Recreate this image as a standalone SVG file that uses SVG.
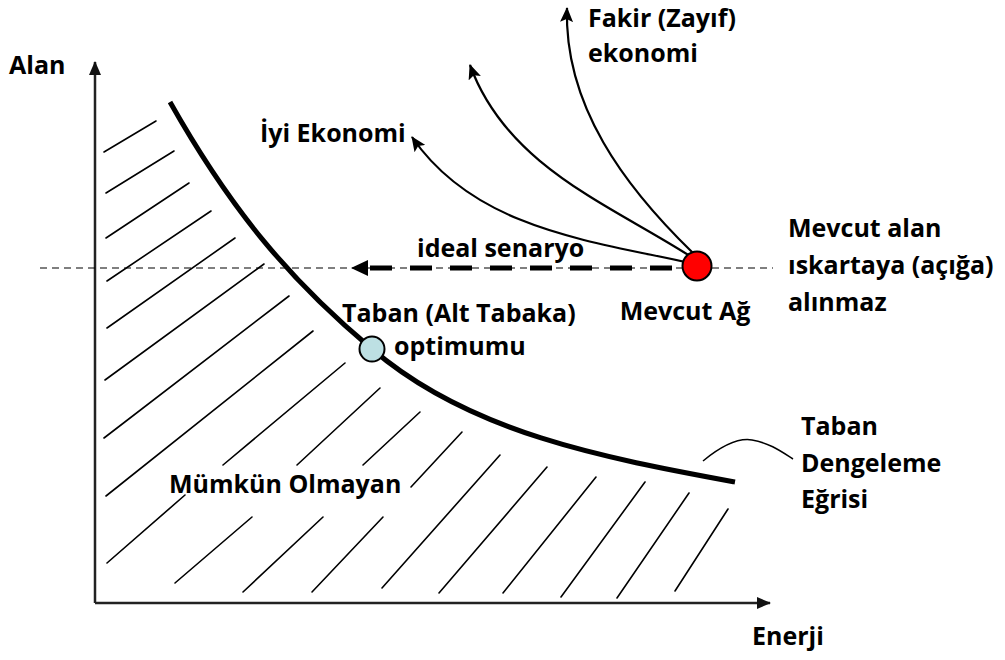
<svg xmlns="http://www.w3.org/2000/svg" width="1005" height="660" viewBox="0 0 1005 660">
<style>
.t{font-family:"Open Sans","Liberation Sans",sans-serif;font-weight:bold;font-size:25px;fill:#000}
.h{stroke:#000;stroke-width:1.6;fill:none;stroke-linecap:round}
.ax{stroke:#222;stroke-width:2.5;fill:none}
.ar{stroke:#000;stroke-width:2.2;fill:none}
</style>
<defs>
<marker id="axh" markerUnits="userSpaceOnUse" viewBox="0 0 14 12" markerWidth="14" markerHeight="12" refX="13" refY="6" orient="auto"><path d="M0,0 L14,6 L0,12 Z" fill="#111"/></marker>
<marker id="ah" markerUnits="userSpaceOnUse" viewBox="0 0 15 13" markerWidth="15" markerHeight="13" refX="14" refY="6.5" orient="auto"><path d="M0,0 L15,6.5 L0,13 L3,6.5 Z" fill="#000"/></marker>
</defs>
<rect width="1005" height="660" fill="#fff"/>

<g id="hatching">
<line class="h" x1="104" y1="152" x2="156" y2="121"/>
<line class="h" x1="106" y1="193" x2="174" y2="151"/>
<line class="h" x1="106" y1="238" x2="189" y2="183"/>
<line class="h" x1="107" y1="281" x2="211" y2="211"/>
<line class="h" x1="107" y1="328" x2="235" y2="238"/>
<line class="h" x1="105" y1="380" x2="264" y2="264"/>
<line class="h" x1="104" y1="438" x2="289" y2="296"/>
<line class="h" x1="106" y1="496" x2="313" y2="331"/>
<line class="h" x1="107" y1="563" x2="185" y2="495"/>
<line class="h" x1="223" y1="465" x2="345" y2="363"/>
<line class="h" x1="175" y1="583" x2="252" y2="517"/>
<line class="h" x1="297" y1="465" x2="380" y2="388"/>
<line class="h" x1="243" y1="592" x2="323" y2="517"/>
<line class="h" x1="363" y1="465" x2="420" y2="412"/>
<line class="h" x1="312" y1="592" x2="383" y2="517"/>
<line class="h" x1="411" y1="487" x2="462" y2="432"/>
<line class="h" x1="382" y1="588" x2="500" y2="455"/>
<line class="h" x1="439" y1="593" x2="547" y2="467"/>
<line class="h" x1="503" y1="593" x2="596" y2="477"/>
<line class="h" x1="561" y1="597" x2="645" y2="482"/>
<line class="h" x1="617" y1="598" x2="689" y2="493"/>
<line class="h" x1="675" y1="591" x2="728" y2="509"/>
</g>

<g id="axes">
<path class="ax" d="M95,603 L95,62" marker-end="url(#axh)"/>
<path class="ax" d="M95,603 L770,603" marker-end="url(#axh)"/>
</g>

<g id="connectors">
<line x1="40" y1="268" x2="773" y2="268" stroke="#000" stroke-width="1.2" stroke-dasharray="7 5"/>
<line x1="370" y1="268" x2="684" y2="268" stroke="#000" stroke-width="5" stroke-dasharray="22 18"/>
<path d="M351,268 L368,260 L368,276 Z" fill="#000"/>
<path class="ar" d="M690,263 C591,241 475,229 412,137" marker-end="url(#ah)"/>
<path class="ar" d="M693,258 C611,205 507,167 470,65" marker-end="url(#ah)"/>
<path class="ar" d="M693,253 C625,187 564,106 567,8" marker-end="url(#ah)"/>
<path d="M703,461 C725,443 740,438 752,440 C770,443 782,452 793,459" stroke="#000" stroke-width="1.5" fill="none"/>
</g>

<g id="curve">
<path d="M170,102 C232,212 292,282 372,349 C470.8,433.5 605,458 735,482" stroke="#000" stroke-width="5" fill="none"/>
</g>

<g id="node-mevcut-ag">
<circle cx="697" cy="266" r="14.5" fill="#ff0000" stroke="#000" stroke-width="2"/>
<text class="t" x="685" y="320" text-anchor="middle">Mevcut Ağ</text>
</g>

<g id="node-taban-optimum">
<circle cx="372" cy="349" r="12.5" fill="#bde0e3" stroke="#000" stroke-width="2"/>
<text class="t" x="342" y="322">Taban (Alt Tabaka)</text>
<text class="t" x="394" y="355">optimumu</text>
</g>

<g id="labels">
<text class="t" x="9" y="74">Alan</text>
<text class="t" x="752" y="645">Enerji</text>
<text class="t" x="588" y="27">Fakir (Zayıf)</text>
<text class="t" x="588" y="62">ekonomi</text>
<text class="t" x="260" y="142">İyi Ekonomi</text>
<text class="t" x="417" y="257">ideal senaryo</text>
<text class="t" x="788" y="237">Mevcut alan</text>
<text class="t" x="788" y="274">ıskartaya (açığa)</text>
<text class="t" x="788" y="311">alınmaz</text>
<text class="t" x="801" y="435">Taban</text>
<text class="t" x="801" y="472">Dengeleme</text>
<text class="t" x="801" y="508">Eğrisi</text>
<text class="t" x="169" y="493">Mümkün Olmayan</text>
</g>
</svg>
